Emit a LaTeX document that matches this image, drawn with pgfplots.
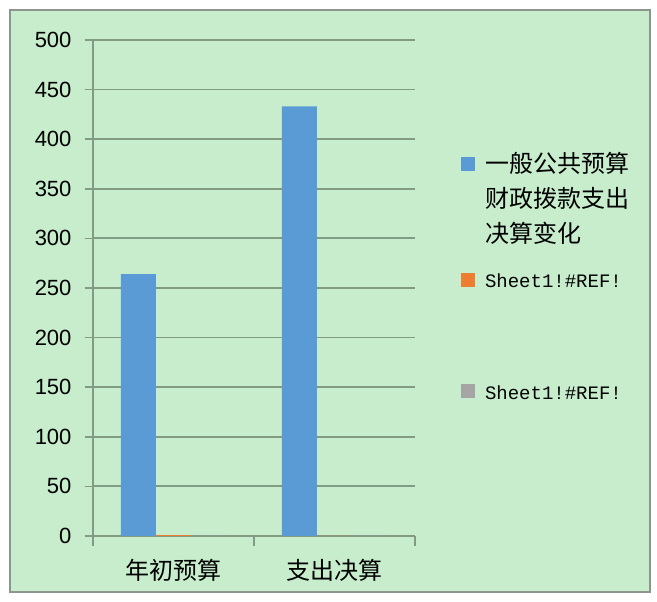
\documentclass[border=0pt]{standalone}
\usepackage{fontspec}
\setmainfont{Liberation Sans}
\newfontfamily\cjk{Noto Sans CJK SC}
\newfontfamily\mono{Liberation Mono}
\usepackage{pgfplots}
\pgfplotsset{compat=1.18}
\definecolor{bg}{RGB}{199,237,204}
\definecolor{framec}{RGB}{140,150,140}
\definecolor{gridc}{RGB}{130,155,133}
\definecolor{s1}{RGB}{91,155,213}
\definecolor{s2}{RGB}{237,125,49}
\definecolor{s3}{RGB}{165,165,165}
\pgfplotsset{sq/.style={legend image code/.code={\fill[##1] (0pt,1pt) rectangle (14pt,15pt);}}}

\begin{document}
\begin{tikzpicture}[x=1pt,y=1pt]
\useasboundingbox (0,0) rectangle (657,602);
\draw[framec, line width=1.8pt, fill=bg] (10,10) rectangle (650,592);
\begin{axis}[
  at={(93pt,66pt)}, anchor=south west,
  scale only axis, width=322pt, height=496pt,
  ybar=0pt, bar width=35pt,
  xmin=-0.5, xmax=1.5, ymin=0, ymax=500,
  xtick={0,1},
  xticklabels={年初预算,支出决算},
  minor xtick={-0.5,0.5,1.5},
  ytick={0,50,...,500},
  /pgf/number format/assume math mode=true,
  axis lines=left,
  axis line style={-, gridc, line width=1.5pt},
  ymajorgrids,
  grid style={gridc, line width=1.8pt},
  tick align=outside,
  major tick length=8pt,
  minor tick length=10pt,
  tick style={gridc, line width=1.5pt},
  every major x tick/.append style={draw=none},
  yticklabel style={font=\fontsize{22}{22}\selectfont, xshift=-10pt},
  xticklabel style={font=\cjk\fontsize{24}{24}\selectfont, yshift=-12pt},
  legend style={at={(axis description cs:1.1429,0.7823)}, anchor=north west,
    draw=none, fill=none, inner sep=0pt, outer sep=0pt,
    column sep=10pt, row sep=0pt,
    cells={anchor=base west},
    nodes={inner sep=0pt, text depth={}},
    font=\fontsize{24}{35}\selectfont},
]
\addplot[fill=s1, draw=none, sq] coordinates {(0,264) (1,433)};
\addlegendentry{\cjk\begin{tabular}[t]{@{}l@{}}一般公共预算\\财政拨款支出\\决算变化\end{tabular}\rule[-91.5pt]{0pt}{115.5pt}}
\addplot[fill=s2, draw=none, sq] coordinates {(0,1) (1,0)};
\addlegendentry{{\mono\fontsize{19}{19}\selectfont Sheet1!\#REF!}\rule[-87.5pt]{0pt}{111.5pt}}
\addplot[fill=s3, draw=none, sq] coordinates {(0,0) (1,0)};
\addlegendentry{{\mono\fontsize{19}{19}\selectfont Sheet1!\#REF!}\rule[-10pt]{0pt}{34pt}}
\end{axis}
\end{tikzpicture}
\end{document}
